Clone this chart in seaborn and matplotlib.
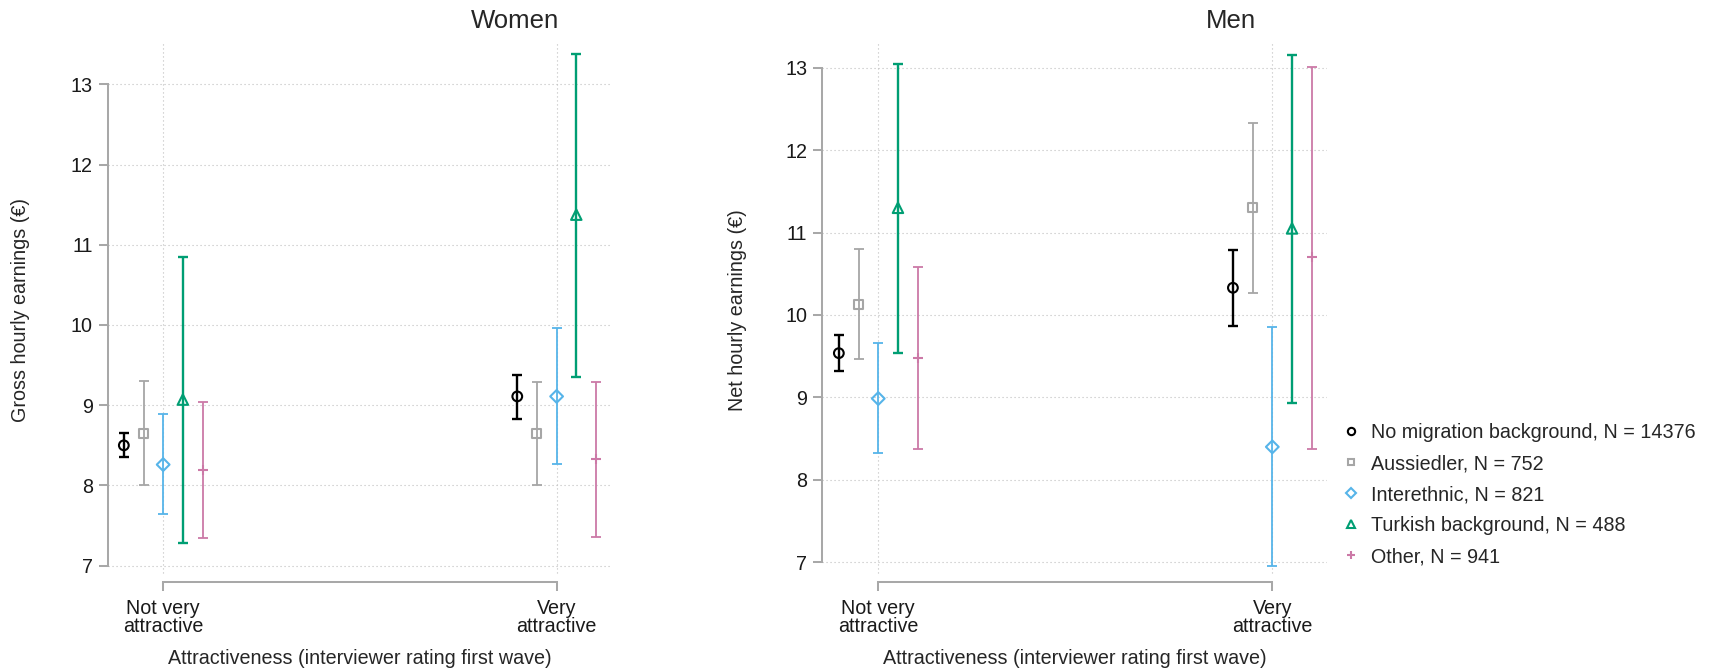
import numpy as np
import pandas as pd
import matplotlib
matplotlib.use("Agg")
import matplotlib.pyplot as plt
from matplotlib.lines import Line2D
import seaborn as sns

# ---------------- data ----------------
categories = ["Not very\nattractive", "Very\nattractive"]
groups = ["No migration background, N = 14376", "Aussiedler, N = 752",
          "Interethnic, N = 821", "Turkish background, N = 488", "Other, N = 941"]

# Women: gross hourly earnings (point estimate, lower CI, upper CI), per category
women_est = [[8.50, 9.11], [8.65, 8.645], [8.26, 9.11], [9.07, 11.375], [8.19, 8.325]]
women_lo = [[8.35, 8.83], [8.00, 8.00], [7.64, 8.27], [7.28, 9.356], [7.34, 7.36]]
women_hi = [[8.656, 9.38], [9.30, 9.29], [8.886, 9.96], [10.85, 13.38], [9.035, 9.29]]

# Men: net hourly earnings
men_est = [[9.537, 10.33], [10.13, 11.30], [8.986, 8.40], [11.30, 11.05], [9.48, 10.70]]
men_lo = [[9.324, 9.865], [9.465, 10.27], [8.326, 6.96], [9.537, 8.93], [8.37, 8.38]]
men_hi = [[9.756, 10.785], [10.80, 12.33], [9.657, 9.85], [13.04, 13.16], [10.58, 13.005]]

yticks = [7, 8, 9, 10, 11, 12, 13]

# ---------------- style ----------------
colors = ["#000000", "#A6A6A6", "#56B4E9", "#009E73", "#CC79A7"]
markers = ["o", "s", "D", "^", "+"]
msizes = [7, 6.5, 6.5, 7.5, 7]
lwidths = [1.7, 1.3, 1.3, 1.7, 1.3]
offsets = [-0.10, -0.05, 0.0, 0.05, 0.10]

sns.set_theme(style="white")
plt.rcParams["font.family"] = ["Liberation Sans", "DejaVu Sans"]
FS = 14.2
spine_col = "#A8A8A8"
grid_col = "#BEBEBE"
W, H = 1721, 672


def make_df(est, lo, hi):
    rows = []
    for g, name in enumerate(groups):
        for c in range(len(categories)):
            rows.append(dict(group=name, gi=g, cat=c, est=est[g][c], lo=lo[g][c], hi=hi[g][c]))
    return pd.DataFrame(rows)


fig = plt.figure(figsize=(W / 100, H / 100), dpi=100)
top_px, bot_px = 43.3, 582.3
ax1 = fig.add_axes([107.7 / W, 1 - bot_px / H, (611.7 - 107.7) / W, (bot_px - top_px) / H])
ax2 = fig.add_axes([822.3 / W, 1 - bot_px / H, (1326.7 - 822.3) / W, (bot_px - top_px) / H])

panels = [
    (ax1, make_df(women_est, women_lo, women_hi), (6.793, 13.511), (-0.141, 1.140),
     "Gross hourly earnings (€)", (20.6 - 107.7) / 504.0),
    (ax2, make_df(men_est, men_lo, men_hi), (6.757, 13.296), (-0.142, 1.138),
     "Net hourly earnings (€)", (737.7 - 822.3) / 504.4),
]

for ax, df, ylim, xlim, ylabel, ylab_x in panels:
    dots = (0, (1, 2.6))
    for y in yticks:
        ax.axhline(y, color=grid_col, lw=0.8, ls=dots, zorder=0)
    for x in range(len(categories)):
        ax.vlines(x, ylim[0] + 0.11, ylim[1], color=grid_col, lw=0.8, ls=dots, zorder=0)
    for g in range(len(groups)):
        d = df[df.gi == g]
        xs = d["cat"].to_numpy() + offsets[g]
        ax.errorbar(xs, d["est"], yerr=[d["est"] - d["lo"], d["hi"] - d["est"]],
                    fmt="none", ecolor=colors[g], elinewidth=lwidths[g],
                    capsize=3.6, capthick=lwidths[g], zorder=2)
        sns.scatterplot(x=xs, y=d["est"].to_numpy(), ax=ax, marker=markers[g],
                        s=msizes[g] ** 2, facecolors="none" if markers[g] != "+" else colors[g],
                        edgecolor=colors[g], color=colors[g], linewidth=1.5, zorder=3, legend=False)
    ax.set_xlim(*xlim)
    ax.set_ylim(*ylim)
    ax.set_xticks(range(len(categories)))
    ax.set_xticklabels(categories, fontsize=FS, linespacing=0.88)
    ax.set_yticks(yticks)
    ax.set_yticklabels([str(t) for t in yticks], fontsize=FS)
    ax.set_ylabel(ylabel, fontsize=FS)
    ax.yaxis.set_label_coords(ylab_x, (bot_px - 310.5) / (bot_px - top_px))
    ax.yaxis.label.set_verticalalignment("center")
    ax.set_xlabel("Attractiveness (interviewer rating first wave)", fontsize=FS)
    ax.xaxis.set_label_coords(0.5, (bot_px - 659.0) / (bot_px - top_px))
    ax.xaxis.label.set_verticalalignment("center")
    sns.despine(ax=ax, top=True, right=True)
    for side in ["left", "bottom"]:
        ax.spines[side].set_color(spine_col)
        ax.spines[side].set_linewidth(1.45)
    ax.spines["left"].set_bounds(7, 13)
    ax.spines["bottom"].set_bounds(0, 1)
    ax.tick_params(axis="both", which="both", direction="out", length=6.8, width=1.45,
                   color=spine_col, labelcolor="#1a1a1a", left=True, bottom=True)
    ax.tick_params(axis="y", pad=4)
    ax.tick_params(axis="x", pad=5.5)
    ax.patch.set_alpha(0)

fig.text(515 / W, 1 - 20.5 / H, "Women", ha="center", va="center", fontsize=18.5)
fig.text(1231 / W, 1 - 20.5 / H, "Men", ha="center", va="center", fontsize=18.5)

handles = []
for g in range(len(groups)):
    handles.append(Line2D([], [], linestyle="none", marker=markers[g], color=colors[g],
                          markerfacecolor="none" if markers[g] != "+" else colors[g],
                          markeredgecolor=colors[g], markersize=msizes[g] * 0.75,
                          markeredgewidth=1.5))
ax2.legend(handles, groups, loc="upper left", bbox_to_anchor=(1341.1 / W, 1 - 423 / H),
           bbox_transform=fig.transFigure, frameon=False, fontsize=FS, handlelength=1.0,
           handletextpad=0.5, labelspacing=0.61, borderpad=0, borderaxespad=0)

fig.savefig("out.png", dpi=100, facecolor="white")
